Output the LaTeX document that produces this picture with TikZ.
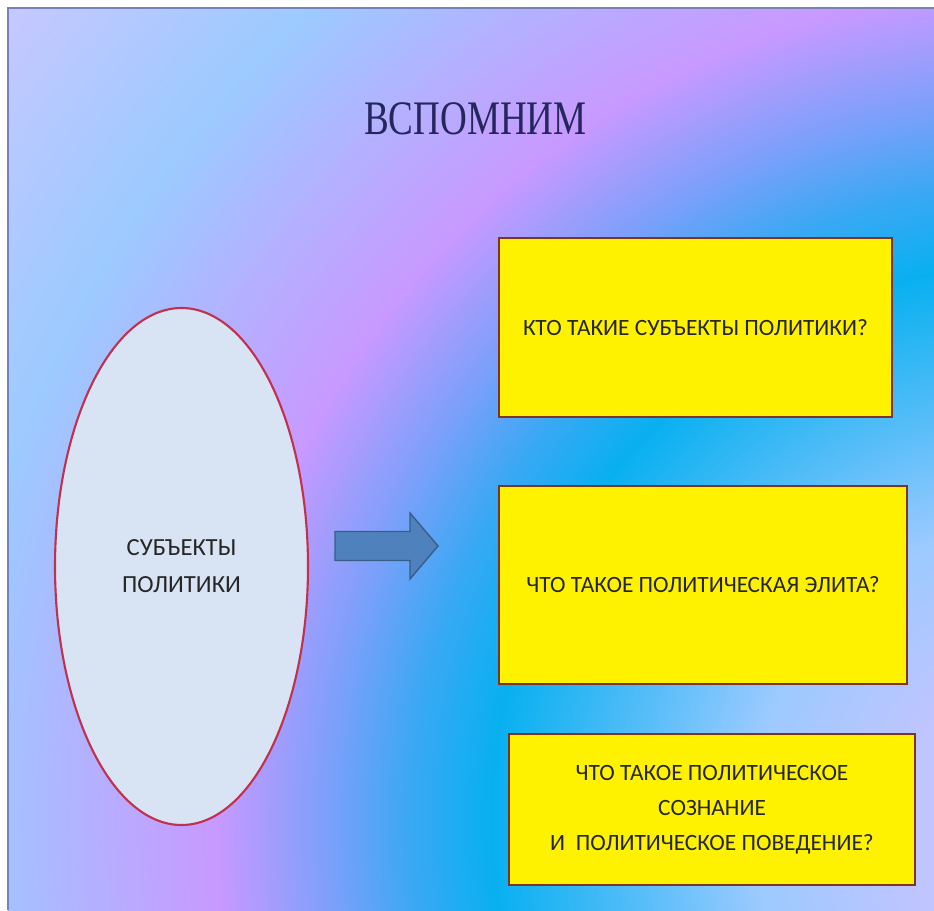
\documentclass[tikz,border=0pt]{standalone}
\usepackage{fontspec}
\setmainfont{Carlito}
\newfontfamily\titlefont[FakeStretch=0.77]{Liberation Serif}

\definecolor{bgA}{HTML}{C4C4FF}
\definecolor{bgB}{HTML}{C0C4FF}
\definecolor{bgC}{HTML}{9CCAFF}
\definecolor{bgD}{HTML}{55BDF8}
\definecolor{bgE}{HTML}{08B0F0}
\definecolor{bgF}{HTML}{3AA8F4}
\definecolor{bgG}{HTML}{7AA0FA}
\definecolor{bgH}{HTML}{C899FF}
\definecolor{bgI}{HTML}{B4B0FF}
\definecolor{bgJ}{HTML}{9CCAFF}
\definecolor{bgK}{HTML}{C8C8FF}
\definecolor{edgeline}{HTML}{7880B8}
\definecolor{titleink}{HTML}{26265E}
\definecolor{ovalfill}{HTML}{D8E3F3}
\definecolor{ovalline}{HTML}{C0304F}
\definecolor{arrowfill}{HTML}{4F81BD}
\definecolor{arrowline}{HTML}{385D8A}
\definecolor{boxline}{HTML}{7E3420}
\definecolor{inktext}{HTML}{262626}

\pgfdeclareradialshading{slidebg}{\pgfpointorigin}{color(0bp)=(bgA); color(85bp)=(bgB); color(170bp)=(bgC); color(238bp)=(bgD); color(317bp)=(bgE); color(363bp)=(bgF); color(408bp)=(bgG); color(473bp)=(bgH); color(544bp)=(bgI); color(621bp)=(bgJ); color(754bp)=(bgK); color(794bp)=(bgK)}

\usetikzlibrary{shapes.geometric}

\tikzset{
  questionbox/.style={draw=boxline, line width=1.4pt, fill=yellow, text=inktext, align=center, inner sep=0pt, font=\fontsize{13.3}{20}\selectfont},
  subjectoval/.style={ellipse, draw=ovalline, line width=1.2pt, fill=ovalfill, text=inktext, align=center, inner sep=0pt, font=\fontsize{14}{21}\selectfont},
  arrowbody/.style={draw=arrowline, line width=0.8pt, fill=arrowfill},
  slideedge/.style={draw=edgeline, line width=1pt}
}

\begin{document}
\begin{tikzpicture}

        \useasboundingbox (00.00,00.00) rectangle (18.68,18.20);

        % Background
        \begin{scope}
          \clip (00.16,00.00) rectangle (18.68,18.04);
          \node [inner sep=0pt] (bg) at (21.00,01.80) {\pgfuseshading{slidebg}};
        \end{scope}
        \draw [slideedge] (00.16,00.00) -- (00.16,18.04) -- (18.68,18.04);

        % Title
        \node [anchor=base, text=titleink, font=\titlefont\fontsize{27.4}{30}\selectfont] (title) at (09.51,15.50) {ВСПОМНИМ};

        % Subjects
        \node [subjectoval, minimum width=5.06cm, minimum height=10.34cm] (subjects) at (03.63,06.87) {СУБЪЕКТЫ\\ПОЛИТИКИ};

        % Arrow
        \draw [arrowbody] (06.70,07.57) -- (08.20,07.57) -- (08.20,07.94) -- (08.76,07.28)
              -- (08.20,06.62) -- (08.20,06.99) -- (06.70,06.99) -- cycle;

        % Questions
        \node [questionbox, minimum width=7.86cm, minimum height=3.58cm] (qwho) at (13.91,11.65) {КТО ТАКИЕ СУБЪЕКТЫ ПОЛИТИКИ?};
        \node [questionbox, minimum width=8.16cm, minimum height=3.96cm] (qelite) at (14.06,06.50) {ЧТО ТАКОЕ ПОЛИТИЧЕСКАЯ ЭЛИТА?};
        \node [questionbox, minimum width=8.12cm, minimum height=3.02cm] (qmind) at (14.24,02.01) {ЧТО ТАКОЕ ПОЛИТИЧЕСКОЕ\\СОЗНАНИЕ\\И~~ПОЛИТИЧЕСКОЕ ПОВЕДЕНИЕ?};

\end{tikzpicture}
\end{document}
